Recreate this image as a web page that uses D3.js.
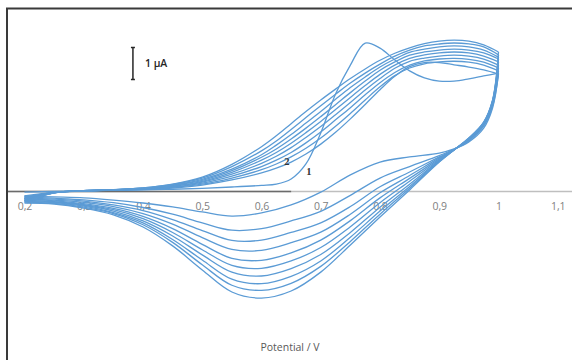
<!DOCTYPE html>
<html>
<head>
<meta charset="utf-8">
<script src="https://cdn.jsdelivr.net/npm/d3@7"></script>
<style>
  html, body { margin: 0; padding: 0; background: #fff; }
  svg { display: block; }
</style>
</head>
<body>
<div id="chart"></div>
<script>
// potential grid of the anodic (forward) and cathodic (reverse) sweeps, V
const forwardPotential = [0.2, 0.25, 0.3, 0.35, 0.4, 0.45, 0.5, 0.55, 0.6, 0.625, 0.65, 0.675, 0.7, 0.725, 0.75, 0.775, 0.8, 0.825, 0.85, 0.875, 0.9, 0.925, 0.95, 0.975, 1.0];
const reversePotential = [1.0, 0.99, 0.975, 0.95, 0.925, 0.9, 0.85, 0.8, 0.75, 0.7, 0.65, 0.6, 0.55, 0.5, 0.45, 0.4, 0.35, 0.3, 0.25, 0.2];

// current in µA, one row per cycle (cycle 1 first)
const forwardCurrent = [
  [-0.02, 0, 0.02, 0.04, 0.05, 0.07, 0.10, 0.14, 0.19, 0.23, 0.39, 0.86, 1.83, 3.05, 3.95, 4.64, 4.48, 4.11, 3.77, 3.55, 3.45, 3.45, 3.52, 3.61, 3.70],
  [-0.14, -0.03, 0.02, 0.04, 0.06, 0.11, 0.20, 0.36, 0.58, 0.73, 0.92, 1.17, 1.48, 1.85, 2.27, 2.72, 3.18, 3.60, 3.90, 4.03, 4.03, 3.96, 3.89, 3.80, 3.67],
  [-0.17, -0.03, 0.02, 0.04, 0.07, 0.13, 0.23, 0.42, 0.68, 0.86, 1.08, 1.35, 1.67, 2.04, 2.44, 2.86, 3.27, 3.62, 3.86, 3.99, 4.05, 4.07, 4.04, 3.95, 3.77],
  [-0.20, -0.03, 0.02, 0.04, 0.08, 0.14, 0.26, 0.48, 0.78, 0.98, 1.22, 1.52, 1.86, 2.24, 2.62, 3.02, 3.40, 3.72, 3.95, 4.08, 4.14, 4.16, 4.13, 4.04, 3.86],
  [-0.22, -0.03, 0.02, 0.05, 0.08, 0.16, 0.29, 0.54, 0.88, 1.10, 1.37, 1.69, 2.03, 2.40, 2.78, 3.17, 3.53, 3.85, 4.07, 4.17, 4.23, 4.26, 4.23, 4.14, 3.95],
  [-0.23, -0.04, 0.02, 0.05, 0.09, 0.17, 0.32, 0.60, 0.98, 1.22, 1.51, 1.84, 2.19, 2.56, 2.94, 3.31, 3.66, 3.95, 4.16, 4.27, 4.33, 4.36, 4.33, 4.23, 4.05],
  [-0.27, -0.04, 0.02, 0.05, 0.09, 0.19, 0.35, 0.65, 1.07, 1.33, 1.64, 1.98, 2.34, 2.71, 3.09, 3.45, 3.79, 4.05, 4.26, 4.36, 4.42, 4.45, 4.42, 4.33, 4.14],
  [-0.28, -0.04, 0.03, 0.06, 0.10, 0.20, 0.38, 0.70, 1.15, 1.45, 1.78, 2.14, 2.50, 2.88, 3.25, 3.58, 3.89, 4.14, 4.35, 4.45, 4.52, 4.55, 4.52, 4.42, 4.20],
  [-0.30, -0.04, 0.03, 0.06, 0.11, 0.22, 0.42, 0.78, 1.27, 1.58, 1.94, 2.31, 2.68, 3.04, 3.39, 3.70, 3.98, 4.23, 4.42, 4.55, 4.61, 4.64, 4.61, 4.52, 4.27],
  [-0.33, -0.04, 0.03, 0.06, 0.11, 0.23, 0.45, 0.85, 1.40, 1.74, 2.12, 2.50, 2.86, 3.20, 3.53, 3.83, 4.10, 4.32, 4.49, 4.62, 4.70, 4.73, 4.70, 4.58, 4.36]
];
const reverseCurrent = [
  [3.70, 2.61, 1.98, 1.55, 1.33, 1.20, 1.08, 0.92, 0.52, -0.02, -0.42, -0.67, -0.77, -0.64, -0.48, -0.36, -0.27, -0.20, -0.17, -0.14],
  [3.67, 2.67, 2.04, 1.58, 1.32, 1.12, 0.78, 0.42, -0.12, -0.62, -0.92, -1.16, -1.21, -0.98, -0.71, -0.50, -0.35, -0.26, -0.21, -0.17],
  [3.77, 2.73, 2.07, 1.60, 1.31, 1.08, 0.61, 0.15, -0.47, -0.98, -1.28, -1.52, -1.53, -1.22, -0.88, -0.60, -0.42, -0.30, -0.24, -0.20],
  [3.86, 2.75, 2.09, 1.62, 1.31, 1.05, 0.50, -0.04, -0.71, -1.27, -1.60, -1.84, -1.81, -1.44, -1.02, -0.69, -0.47, -0.34, -0.27, -0.22],
  [3.95, 2.77, 2.11, 1.63, 1.31, 1.02, 0.41, -0.20, -0.91, -1.52, -1.92, -2.15, -2.09, -1.65, -1.16, -0.78, -0.53, -0.38, -0.29, -0.23],
  [4.05, 2.80, 2.12, 1.64, 1.31, 0.99, 0.32, -0.35, -1.10, -1.75, -2.17, -2.40, -2.31, -1.82, -1.28, -0.85, -0.57, -0.41, -0.32, -0.27],
  [4.14, 2.81, 2.14, 1.65, 1.30, 0.97, 0.23, -0.49, -1.28, -1.97, -2.41, -2.64, -2.52, -1.98, -1.39, -0.92, -0.61, -0.43, -0.33, -0.28],
  [4.20, 2.83, 2.15, 1.66, 1.30, 0.95, 0.16, -0.61, -1.43, -2.17, -2.65, -2.88, -2.74, -2.14, -1.50, -0.98, -0.66, -0.46, -0.35, -0.30],
  [4.27, 2.84, 2.16, 1.67, 1.30, 0.93, 0.10, -0.71, -1.56, -2.34, -2.87, -3.09, -2.93, -2.29, -1.59, -1.04, -0.69, -0.49, -0.37, -0.33],
  [4.36, 2.86, 2.17, 1.67, 1.30, 0.92, 0.05, -0.80, -1.67, -2.52, -3.11, -3.33, -3.14, -2.45, -1.70, -1.11, -0.73, -0.52, -0.39, -0.36]
];

const tickValues = [0.2, 0.3, 0.4, 0.5, 0.6, 0.7, 0.8, 0.9, 1.0, 1.1];

// cycle number labels and 1 µA scale bar (data coordinates)
const labelText = ["1", "2"];
const labelPotential = [0.68, 0.643];
const labelCurrent = [0.62, 0.95];
const scaleBarPotential = 0.383;
const scaleBarCurrent = [3.5, 4.5];

const width = 572, height = 360;
const blue = '#5b9bd5';

const svg = d3.select('#chart')
  .append('svg')
  .attr('width', width)
  .attr('height', height);

const x = d3.scaleLinear()
  .domain([0.2, 1.0])
  .range([24.5, 498.5]);

const y = d3.scaleLinear()
  .domain([-5, 5])   // 32 px per µA
  .range([351.5, 31.5]);

// outer frame (runs off the right and bottom edge)
svg.append('rect')
  .attr('x', 7)
  .attr('y', 8.5)
  .attr('width', 620)
  .attr('height', 400)
  .attr('fill', 'none')
  .attr('stroke', '#3a3a3a')
  .attr('stroke-width', 2);

// zero line: light grey across, darker on the left
svg.append('line')
  .attr('x1', 8).attr('x2', width)
  .attr('y1', y(0)).attr('y2', y(0))
  .attr('stroke', '#bfbfbf')
  .attr('stroke-width', 1.5);
svg.append('line')
  .attr('x1', 8).attr('x2', x(0.65))
  .attr('y1', y(0)).attr('y2', y(0))
  .attr('stroke', '#6b6b6b')
  .attr('stroke-width', 1.5);

// tick labels with comma decimals
const xAxis = svg.append('g')
  .attr('transform', `translate(0,${y(0)})`)
  .call(d3.axisBottom(x)
    .tickValues(tickValues)
    .tickSize(0)
    .tickPadding(11)
    .tickFormat(d => String(+d.toFixed(1)).replace('.', ',')));
xAxis.select('.domain').remove();
xAxis.selectAll('.tick text')
  .attr('fill', '#808080')
  .attr('font-family', 'Open Sans, sans-serif')
  .attr('font-size', '10.5px');

// voltammogram cycles
const line = d3.line()
  .x(d => x(d[0]))
  .y(d => y(d[1]))
  .curve(d3.curveCatmullRom.alpha(0.5));

const plot = svg.append('g');
forwardCurrent.forEach((row, i) => {
  plot.append('path')
    .attr('d', line(row.map((c, k) => [forwardPotential[k], c])))
    .attr('fill', 'none')
    .attr('stroke', blue)
    .attr('stroke-width', 1.3);
  plot.append('path')
    .attr('d', line(reverseCurrent[i].map((c, k) => [reversePotential[k], c])))
    .attr('fill', 'none')
    .attr('stroke', blue)
    .attr('stroke-width', 1.3);
});

// cycle labels
labelText.forEach((t, i) => {
  svg.append('text')
    .attr('x', x(labelPotential[i]))
    .attr('y', y(labelCurrent[i]))
    .attr('dy', '0.35em')
    .attr('text-anchor', 'middle')
    .attr('font-family', 'Liberation Serif, serif')
    .attr('font-weight', 'bold')
    .attr('font-size', '10.5px')
    .attr('fill', '#333')
    .text(t);
});

// 1 µA scale bar
const sb = svg.append('g').attr('stroke', '#262626').attr('stroke-width', 1.5);
sb.append('line')
  .attr('x1', x(scaleBarPotential)).attr('x2', x(scaleBarPotential))
  .attr('y1', y(scaleBarCurrent[0])).attr('y2', y(scaleBarCurrent[1]));
scaleBarCurrent.forEach(c => {
  sb.append('line')
    .attr('x1', x(scaleBarPotential) - 2).attr('x2', x(scaleBarPotential) + 2)
    .attr('y1', y(c)).attr('y2', y(c));
});
svg.append('text')
  .attr('x', x(scaleBarPotential) + 12)
  .attr('y', y((scaleBarCurrent[0] + scaleBarCurrent[1]) / 2))
  .attr('dy', '0.35em')
  .attr('font-family', 'Open Sans, sans-serif')
  .attr('font-weight', 600)
  .attr('font-size', '10.5px')
  .attr('fill', '#262626')
  .text('1 µA');

// axis title
svg.append('text')
  .attr('x', 290)
  .attr('y', 351)
  .attr('text-anchor', 'middle')
  .attr('font-family', 'Open Sans, sans-serif')
  .attr('font-size', '10.5px')
  .attr('fill', '#595959')
  .text('Potential / V');
</script>
</body>
</html>
